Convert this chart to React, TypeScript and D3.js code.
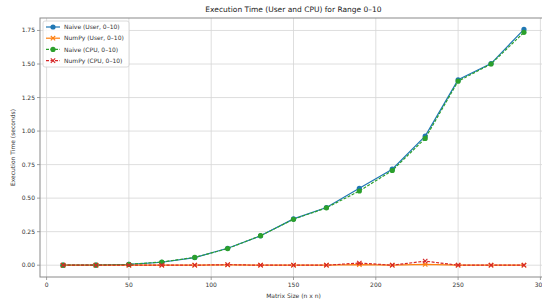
import React from 'react'
import * as d3 from 'd3'

const sizes = [10, 30, 50, 70, 90, 110, 130, 150, 170, 190, 210, 230, 250, 270, 290]
const naiveUser = [0.0, 0.001, 0.006, 0.022, 0.057, 0.126, 0.219, 0.345, 0.43, 0.573, 0.716, 0.962, 1.382, 1.503, 1.758]
const numpyUser = [0.0, 0.0, 0.0, 0.0, 0.0, 0.002, 0.0, 0.0, 0.0, 0.004, 0.0, 0.006, 0.0, 0.0, 0.0]
const naiveCpu = [0.0, 0.001, 0.006, 0.024, 0.058, 0.124, 0.22, 0.342, 0.428, 0.553, 0.706, 0.945, 1.372, 1.5, 1.736]
const numpyCpu = [0.0, 0.0, 0.0, 0.0, 0.0, 0.004, 0.0, 0.0, 0.0, 0.016, 0.0, 0.03, 0.0, 0.0, 0.0]

const xTicks = [0, 50, 100, 150, 200, 250, 300]
const yTicks = [0, 0.25, 0.5, 0.75, 1.0, 1.25, 1.5, 1.75]

const seriesList = [
  { name: 'Naive (User, 0\u201310)', values: naiveUser, color: '#1f77b4', dash: '', marker: 'o' },
  { name: 'NumPy (User, 0\u201310)', values: numpyUser, color: '#ff7f0e', dash: '', marker: 'x' },
  { name: 'Naive (CPU, 0\u201310)', values: naiveCpu, color: '#2ca02c', dash: '3,1.5', marker: 'o' },
  { name: 'NumPy (CPU, 0\u201310)', values: numpyCpu, color: '#d62728', dash: '3,1.5', marker: 'x' },
]

const font = 'DejaVu Sans, sans-serif'

const Marker = (p: { kind: string; x: number; y: number; color: string }) => {
  if (p.kind === 'o') return <circle cx={p.x} cy={p.y} r={2.6} fill={p.color} />
  const s = 2.2
  return (
    <g stroke={p.color} strokeWidth={1.1}>
      <line x1={p.x - s} y1={p.y - s} x2={p.x + s} y2={p.y + s} />
      <line x1={p.x - s} y1={p.y + s} x2={p.x + s} y2={p.y - s} />
    </g>
  )
}

export default function App() {
  const width = 542
  const height = 304
  const left = 40
  const right = 547
  const top = 18
  const bottom = 277

  const x = d3.scaleLinear().domain([-4, 304]).range([left, right])
  const y = d3.scaleLinear().domain([-0.088, 1.843]).range([bottom, top])

  const line = d3.line<number>()
    .x((_, i) => x(sizes[i]))
    .y(d => y(d))

  return (
    <svg width={width} height={height} style={{ position: 'absolute', left: 0, top: 0, background: '#fff' }} fontFamily={font}>
      <rect x={0} y={0} width={width} height={height} fill="#fff" />
      {/* grid */}
      {xTicks.map(t => (
        <line key={'gx' + t} x1={x(t)} x2={x(t)} y1={top} y2={bottom} stroke="#d6d6d6" strokeWidth={0.8} />
      ))}
      {yTicks.map(t => (
        <line key={'gy' + t} x1={left} x2={right} y1={y(t)} y2={y(t)} stroke="#d6d6d6" strokeWidth={0.8} />
      ))}

      {/* series */}
      {seriesList.map(s => (
        <g key={s.name}>
          <path d={line(s.values) || ''} fill="none" stroke={s.color} strokeWidth={1.2} strokeDasharray={s.dash} />
          {s.values.map((v, i) => (
            <Marker key={i} kind={s.marker} x={x(sizes[i])} y={y(v)} color={s.color} />
          ))}
        </g>
      ))}

      {/* spines */}
      <rect x={left} y={top} width={right - left} height={bottom - top} fill="none" stroke="#8a8a8a" strokeWidth={1} />

      {/* ticks */}
      {xTicks.map(t => (
        <g key={'tx' + t}>
          <line x1={x(t)} x2={x(t)} y1={bottom} y2={bottom + 3} stroke="#8a8a8a" strokeWidth={0.8} />
          <text x={x(t)} y={bottom + 10} fontSize={6} textAnchor="middle" fill="#333">{t}</text>
        </g>
      ))}
      {yTicks.map(t => (
        <g key={'ty' + t}>
          <line x1={left - 3} x2={left} y1={y(t)} y2={y(t)} stroke="#8a8a8a" strokeWidth={0.8} />
          <text x={left - 5} y={y(t) + 2} fontSize={6} textAnchor="end" fill="#333">{t.toFixed(2)}</text>
        </g>
      ))}

      {/* labels */}
      <text x={(left + right) / 2} y={12} fontSize={7.5} textAnchor="middle" fill="#222">
        Execution Time (User and CPU) for Range 0–10
      </text>
      <text x={(left + right) / 2} y={298} fontSize={6} textAnchor="middle" fill="#333">Matrix Size (n x n)</text>
      <text transform={`translate(15,${(top + bottom) / 2}) rotate(-90)`} fontSize={6} textAnchor="middle" fill="#333">
        Execution Time (seconds)
      </text>

      {/* legend */}
      <g>
        <rect x={43} y={21} width={86} height={46} rx={2} fill="#fff" fillOpacity={0.85} stroke="#d0d0d0" strokeWidth={0.8} />
        {seriesList.map((s, i) => {
          const ly = 27 + i * 11.2
          return (
            <g key={'lg' + s.name}>
              <line x1={46} x2={60} y1={ly} y2={ly} stroke={s.color} strokeWidth={1.2} strokeDasharray={s.dash} />
              <Marker kind={s.marker} x={53} y={ly} color={s.color} />
              <text x={64} y={ly + 2.2} fontSize={6} fill="#333">{s.name}</text>
            </g>
          )
        })}
      </g>
    </svg>
  )
}
